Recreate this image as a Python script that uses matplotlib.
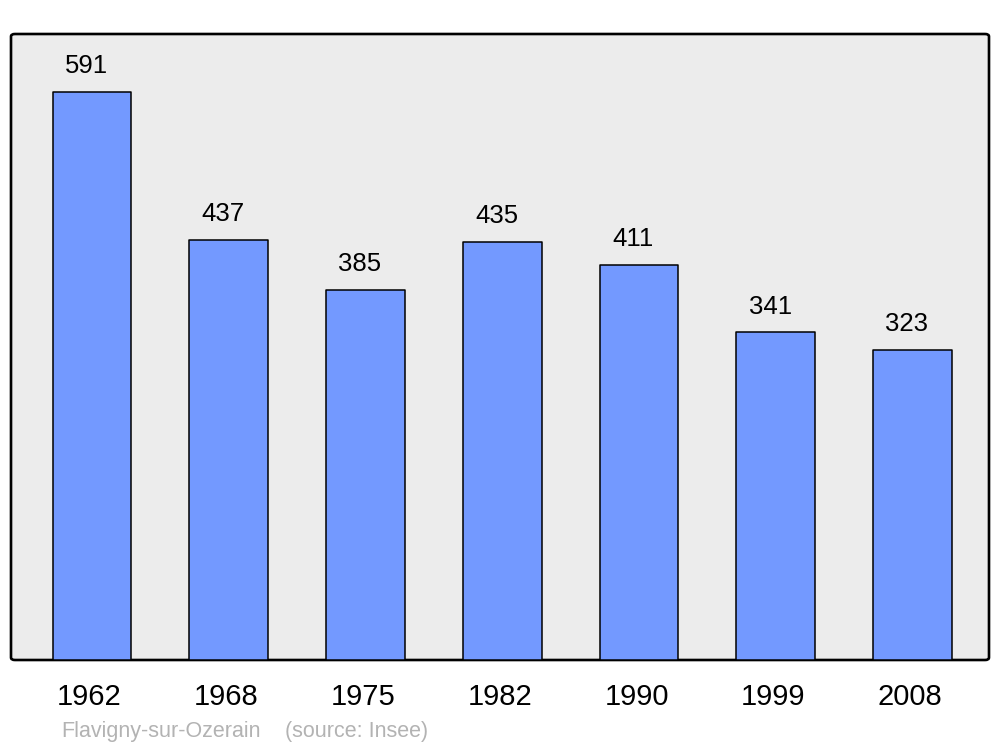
import matplotlib
matplotlib.use("Agg")
import matplotlib.pyplot as plt
import matplotlib.transforms as mtransforms
from matplotlib.patches import FancyBboxPatch

years = ["1962", "1968", "1975", "1982", "1990", "1999", "2008"]
population = [591, 437, 385, 435, 411, 341, 323]
commune = "Flavigny-sur-Ozerain"
source = "(source: Insee)"

plt.rcParams['font.family'] = ['Liberation Sans', 'DejaVu Sans']

fig = plt.figure(figsize=(10, 7.47), dpi=100)
W, H = 1000, 747
ax = fig.add_axes([11 / W, 1 - 660 / H, 978 / W, (660 - 34) / H])
ax.set_facecolor('none')
for s in ax.spines.values():
    s.set_visible(False)

# rounded background frame
bg = FancyBboxPatch((0, 0), 1, 1,
                    boxstyle="round,pad=0,rounding_size=0.004",
                    transform=ax.transAxes, facecolor='#ececec',
                    edgecolor='black', linewidth=1.9, zorder=1, clip_on=False)
ax.add_patch(bg)

x = list(range(len(years)))
bars = ax.bar(x, population, width=0.575, color='#7399ff', edgecolor='black',
              linewidth=1.1, zorder=2)
for b in bars:
    b.set_joinstyle('round')

for xi, v in zip(x, population):
    ax.annotate(str(v), (xi, v), xytext=(-4, 18.5), textcoords='offset points',
                ha='center', va='center', fontsize=18.5, color='black', zorder=3)

ax.set_xlim(-0.592, 6.559)
ax.set_ylim(0, 651.4)
ax.set_yticks([])
ax.set_xticks(x)
ax.set_xticklabels(years, fontsize=21)
ax.tick_params(axis='x', length=0, pad=16.5)
offset = mtransforms.ScaledTranslation(-2.5 / 100, 0, fig.dpi_scale_trans)
for lbl in ax.get_xticklabels():
    lbl.set_transform(lbl.get_transform() + offset)

fig.text(61 / W, 1 - 731 / H, commune, fontsize=15.5, color='#b3b3b3',
         ha='left', va='center')
fig.text(285 / W, 1 - 731 / H, source, fontsize=15.5, color='#b3b3b3',
         ha='left', va='center')

fig.savefig("out.png", dpi=100)
